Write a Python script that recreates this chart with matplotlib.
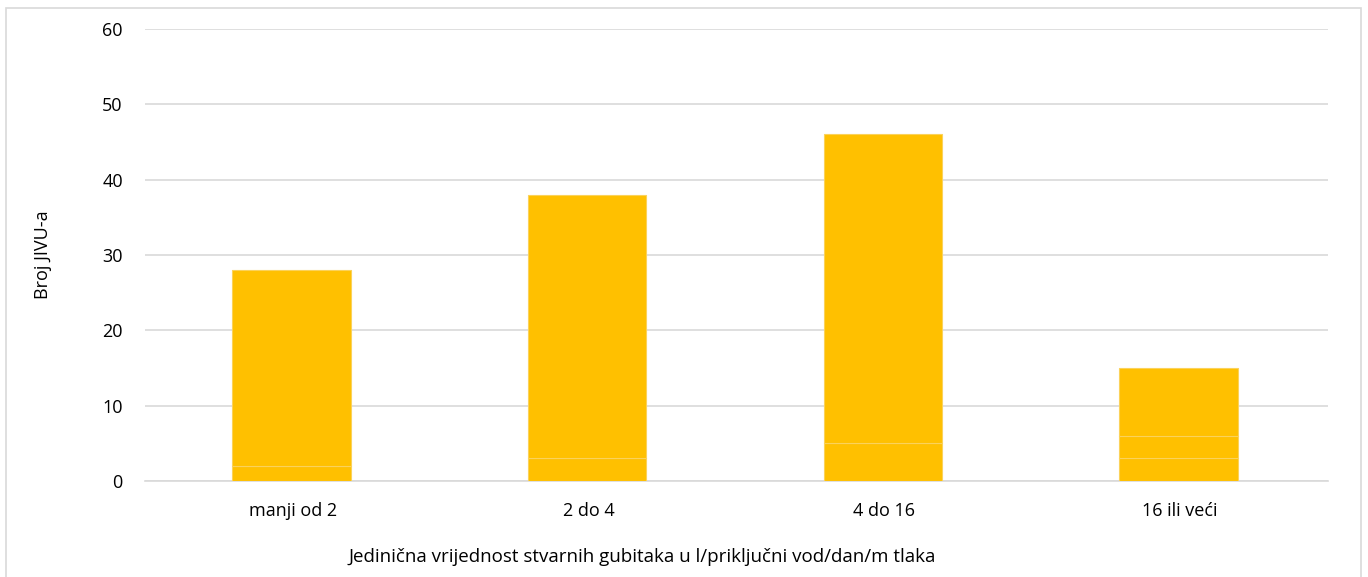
import numpy as np
import matplotlib.pyplot as plt
from matplotlib.patches import Rectangle

plt.rcParams['font.family'] = ['Open Sans', 'DejaVu Sans']

categories = ["manji od 2", "2 do 4", "4 do 16", "16 ili veći"]
# stacked segments (faint boundaries visible inside bars)
seg1 = [2, 3, 5, 3]
seg2 = [0, 0, 0, 3]
seg3 = [26, 35, 41, 9]

color = "#ffc000"
grid = "#d9d9d9"

fig = plt.figure(figsize=(13.68, 5.77), dpi=100)
ax = fig.add_axes([145 / 1368, 96 / 577, (1328 - 145) / 1368, (481 - 29) / 577])

x = np.arange(len(categories))
bottom = np.zeros(len(categories))
for seg in (seg1, seg2, seg3):
    ax.bar(x - 0.005, seg, 0.4, bottom=bottom, color=color, edgecolor="#fbd25a",
           linewidth=0.8, zorder=3)
    bottom += np.array(seg)

ax.set_xlim(-0.5, len(categories) - 0.5)
ax.set_ylim(0, 60)
ax.set_yticks(range(0, 61, 10))
ax.set_xticks(x)
ax.set_xticklabels(categories)
ax.yaxis.grid(True, color=grid, linewidth=1.2, zorder=0)
for s in ("top", "right", "left"):
    ax.spines[s].set_visible(False)
ax.spines["bottom"].set_color(grid)
ax.spines["bottom"].set_linewidth(1.2)
ax.tick_params(length=0, labelsize=13, colors="#000000")
ax.tick_params(axis="x", pad=15)
ax.tick_params(axis="y", pad=16)

ax.set_ylabel("Broj JIVU-a", fontsize=13, labelpad=36)
fig.text(642 / 1368, 1 - 557 / 577, "Jedinična vrijednost stvarnih gubitaka u l/priključni vod/dan/m tlaka",
         ha="center", va="center", fontsize=13.5)

fig.patches.append(Rectangle((6 / 1368, -0.1), (1361 - 6) / 1368, 1.1 - 8 / 577,
                             transform=fig.transFigure, fill=False,
                             edgecolor=grid, linewidth=1.2))

fig.savefig("out.png", dpi=100)
